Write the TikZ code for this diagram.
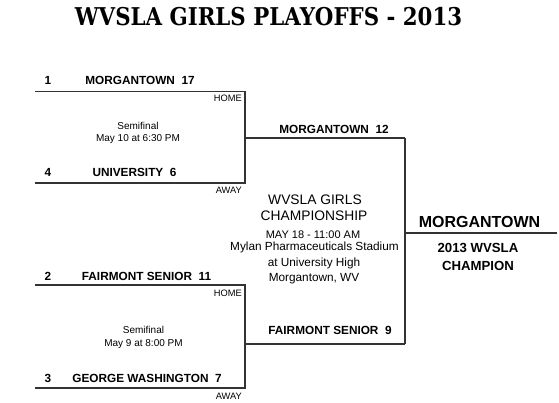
\documentclass[tikz,border=0pt]{standalone}
\usepackage{fontspec}
\setmainfont{Liberation Sans}
\newfontfamily\titlefont{DejaVu Serif Bold}
\begin{document}
\begin{tikzpicture}[x=1pt,y=-1pt,
  line/.style={draw=black!80,line width=1.2pt},
  team/.style={anchor=base,inner sep=0pt,font=\fontsize{11.8}{13}\selectfont\bfseries},
  seed/.style={anchor=base,inner sep=0pt,font=\fontsize{11.8}{13}\selectfont\bfseries},
  tag/.style={anchor=base east,inner sep=0pt,font=\fontsize{9.3}{11}\selectfont},
  info/.style={anchor=base,inner sep=0pt,font=\fontsize{10}{12}\selectfont},
  big/.style={anchor=base,inner sep=0pt,font=\fontsize{13.8}{16}\selectfont},
  mid/.style={anchor=base,inner sep=0pt,font=\fontsize{11.8}{14}\selectfont},
  champ/.style={anchor=base,inner sep=0pt,font=\fontsize{13.2}{16}\selectfont\bfseries}]
\useasboundingbox (0,0) rectangle (559,403);
% title
\node[anchor=base,inner sep=0pt,font=\fontsize{24.5}{28}\selectfont\titlefont] (title) at (268.5,26) {\scalebox{0.87}[1]{WVSLA GIRLS PLAYOFFS - 2013}};
% bracket coordinates
\coordinate (t1a) at (35,91.5);  \coordinate (t1b) at (245,91.5);
\coordinate (t4a) at (35,183);   \coordinate (t4b) at (245,183);
\coordinate (tm)  at (245,138);  \coordinate (f1)  at (405,138);
\coordinate (t2a) at (35,285);   \coordinate (t2b) at (245,285);
\coordinate (t3a) at (35,388);   \coordinate (t3b) at (245,388);
\coordinate (bm)  at (245,344);  \coordinate (f2)  at (405,344);
\coordinate (cm)  at (405,233);  \coordinate (ce)  at (557,233);
\draw[line] (t1a) -- (t1b) -- (t4b) -- (t4a);
\draw[line] (tm) -- (f1);
\draw[line] (t2a) -- (t2b) -- (t3b) -- (t3a);
\draw[line] (bm) -- (f2);
\draw[line] (f1) -- (f2);
\draw[line] (cm) -- (ce);
% semifinal 1
\node[seed] (s1) at (48,85) {1};
\node[team] (n1) at (140,85) {MORGANTOWN~~17};
\node[tag] (h1) at (242,102) {HOME};
\node[info] (sf1) at (138,130) {Semifinal};
\node[info] (d1) at (138,141.7) {May 10 at 6:30 PM};
\node[seed] (s4) at (48,176.5) {4};
\node[team] (n4) at (134.5,176.5) {UNIVERSITY~~6};
\node[tag] (a1) at (242,194) {AWAY};
% semifinal 2
\node[seed] (s2) at (48,280.5) {2};
\node[team] (n2) at (146.5,280.5) {FAIRMONT SENIOR~~11};
\node[tag] (h2) at (242,296.5) {HOME};
\node[info] (sf2) at (143.5,333.3) {Semifinal};
\node[info] (d2) at (143.5,346) {May 9 at 8:00 PM};
\node[seed] (s3) at (48,382.5) {3};
\node[team] (n3) at (147,382.5) {GEORGE WASHINGTON~~7};
\node[tag] (a2) at (242,399) {AWAY};
% final
\node[team] (w1) at (334,134) {MORGANTOWN~~12};
\node[team] (w2) at (330,334.3) {FAIRMONT SENIOR~~9};
\node[big] (c1) at (315,204.3) {WVSLA GIRLS};
\node[big] (c2) at (314,220.7) {CHAMPIONSHIP};
\node[info,font=\fontsize{11}{13}\selectfont] (c3) at (313,238.3) {MAY 18 - 11:00 AM};
\node[mid] (c4) at (314.5,251) {Mylan Pharmaceuticals Stadium};
\node[mid] (c5) at (314,266) {at University High};
\node[mid] (c6) at (314,281) {Morgantown, WV};
% champion
\node[anchor=base,inner sep=0pt,font=\fontsize{16}{18}\selectfont\bfseries] (ch) at (479.5,227.5) {MORGANTOWN};
\node[champ] (ch1) at (478,253) {2013 WVSLA};
\node[champ] (ch2) at (478,270.5) {CHAMPION};
\end{tikzpicture}
\end{document}
